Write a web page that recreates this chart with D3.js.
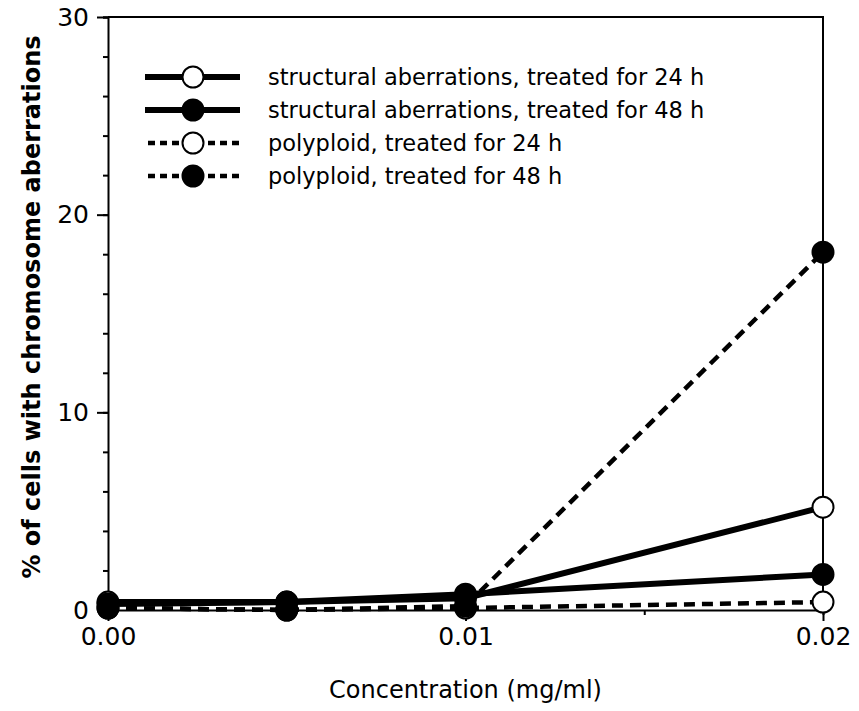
<!DOCTYPE html>
<html>
<head>
<meta charset="utf-8">
<script src="https://cdn.jsdelivr.net/npm/d3@7"></script>
<style>
  body { margin: 0; background: #fff; }
  text { font-family: "DejaVu Sans", Verdana, sans-serif; }
</style>
</head>
<body>
<div class="chart"></div>
<script>
// concentrations (mg/ml)
const conc = [0, 0.005, 0.01, 0.02]

// % cells with chromosome aberrations
const struct24 = [0.4, 0.4, 0.6, 5.2]
const struct48 = [0.3, 0.4, 0.8, 1.8]
const poly24 = [0.1, 0.0, 0.1, 0.4]
const poly48 = [0.1, 0.0, 0.2, 18.1]

const seriesNames = [
  "structural aberrations, treated for 24 h",
  "structural aberrations, treated for 48 h",
  "polyploid, treated for 24 h",
  "polyploid, treated for 48 h"
]

const xTicks = [0, 0.01, 0.02]
const yTicks = [0, 10, 20, 30]

const showChart = () => {
  let width = 859, height = 711
  let margin = { left: 108, right: 36, top: 17, bottom: 101 }

  const svg = d3.select(".chart").append("svg")
    .attr("width", width)
    .attr("height", height)

  const x = d3.scaleLinear().domain([0, 0.02]).range([margin.left, width - margin.right])
  const y = d3.scaleLinear().domain([0, 30]).range([height - margin.bottom, margin.top])

  // frame: top and right lines
  svg.append("path")
    .attr("d", `M${x(0)},${y(30)}H${x(0.02)}V${y(0)}`)
    .attr("fill", "none").attr("stroke", "#000").attr("stroke-width", 2)

  // y axis with minor ticks
  const yAxis = svg.append("g").attr("transform", `translate(${x(0)},0)`)
  yAxis.call(d3.axisLeft(y).tickValues(d3.range(0, 31, 2)).tickSize(5).tickFormat(""))
  yAxis.selectAll(".tick line").attr("stroke-width", 2)
  const yMajor = svg.append("g").attr("transform", `translate(${x(0)},0)`)
    .call(d3.axisLeft(y).tickValues(yTicks).tickSize(11).tickPadding(8).tickFormat(d3.format("d")))
  yMajor.selectAll(".tick line").attr("stroke-width", 2)
  yMajor.select(".domain").remove()
  yMajor.selectAll("text").attr("font-size", 25).attr("font-family", "DejaVu Sans").attr("fill", "#000")
  svg.selectAll(".domain").attr("stroke-width", 2)

  // x axis with minor ticks
  const xAxis = svg.append("g").attr("transform", `translate(0,${y(0)})`)
  xAxis.call(d3.axisBottom(x).tickValues([0.005, 0.015]).tickSize(5).tickFormat(""))
  xAxis.selectAll(".tick line").attr("stroke-width", 2)
  xAxis.select(".domain").attr("stroke-width", 2)
  const xMajor = svg.append("g").attr("transform", `translate(0,${y(0)})`)
    .call(d3.axisBottom(x).tickValues(xTicks).tickSize(11).tickPadding(6).tickFormat(d3.format(".2f")))
  xMajor.select(".domain").remove()
  xMajor.selectAll(".tick line").attr("stroke-width", 2)
  xMajor.selectAll("text").attr("font-size", 25).attr("font-family", "DejaVu Sans").attr("fill", "#000")

  // axis titles
  svg.append("text")
    .attr("x", (x(0) + x(0.02)) / 2)
    .attr("y", 698)
    .attr("text-anchor", "middle")
    .attr("font-size", 24)
    .text("Concentration (mg/ml)")

  svg.append("text")
    .attr("transform", `translate(40,307) rotate(-90)`)
    .attr("text-anchor", "middle")
    .attr("font-size", 24)
    .attr("font-weight", "bold")
    .attr("font-family", "Liberation Sans, Arial, sans-serif")
    .text("% of cells with chromosome aberrations")

  const series = [
    { vals: struct24, dash: null, fill: "#fff", w: 6 },
    { vals: struct48, dash: null, fill: "#000", w: 6 },
    { vals: poly24, dash: "11,7", fill: "#fff", w: 4.5 },
    { vals: poly48, dash: "11,7", fill: "#000", w: 4.5 }
  ]

  const line = d3.line()
    .x((d, i) => x(conc[i]))
    .y(d => y(d))

  // draw lines first, then markers
  series.forEach(s => {
    svg.append("path")
      .datum(s.vals)
      .attr("d", line)
      .attr("fill", "none")
      .attr("stroke", "#000")
      .attr("stroke-width", s.w)
      .attr("stroke-dasharray", s.dash)
  })
  series.forEach(s => {
    svg.selectAll(null)
      .data(s.vals)
      .enter()
      .append("circle")
      .attr("cx", (d, i) => x(conc[i]))
      .attr("cy", d => y(d))
      .attr("r", 10.5)
      .attr("fill", s.fill)
      .attr("stroke", "#000")
      .attr("stroke-width", 2)
  })

  // legend
  const legend = svg.append("g")
  const rows = [77, 110, 143, 176]
  series.forEach((s, i) => {
    const g = legend.append("g").attr("transform", `translate(0,${rows[i]})`)
    g.append("line")
      .attr("x1", s.dash ? 148 : 145).attr("x2", 240)
      .attr("stroke", "#000").attr("stroke-width", s.w)
      .attr("stroke-dasharray", s.dash ? "7,5" : null)
    g.append("circle")
      .attr("cx", 193).attr("r", 10.5)
      .attr("fill", s.fill).attr("stroke", "#000").attr("stroke-width", 2)
    g.append("text")
      .attr("x", 268).attr("dy", "0.35em")
      .attr("font-size", 22.5)
      .text(seriesNames[i])
  })
}

showChart()
</script>
</body>
</html>
